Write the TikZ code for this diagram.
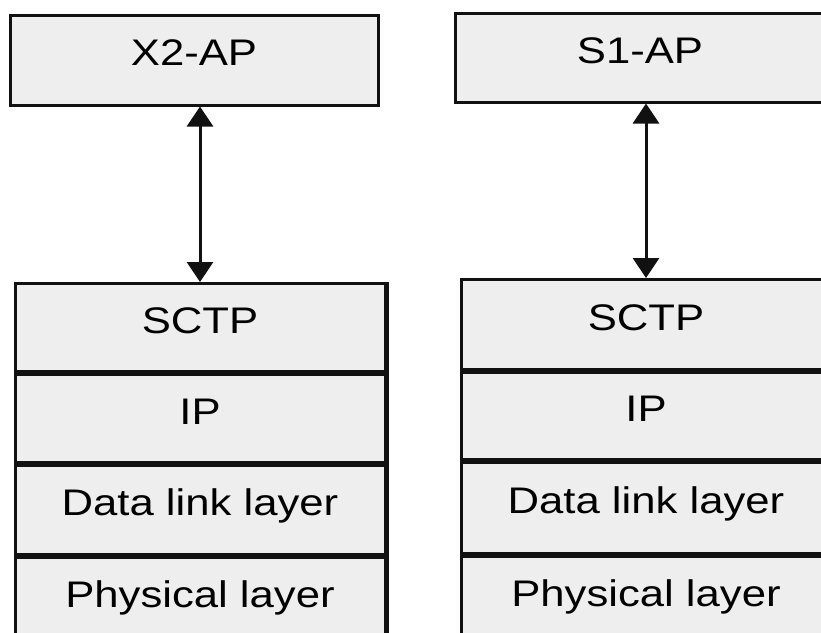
\documentclass[tikz,border=0pt]{standalone}
\usepackage{fontspec}
\setmainfont{Liberation Sans}
\usetikzlibrary{arrows.meta}
\definecolor{boxgray}{HTML}{EEEEEE}
\definecolor{linecol}{HTML}{111111}
\newcommand\lbl[1]{\raisebox{8pt}{\scalebox{1.18}[1]{#1}}}
\begin{document}
\begin{tikzpicture}[x=1pt,y=1pt,
  layerbox/.style={draw=linecol, line width=3pt, fill=boxgray, inner sep=0pt,
    text height=27pt, text depth=0pt,
    minimum width=370pt, font=\fontsize{37}{42}\selectfont},
  biarrow/.style={draw=linecol, line width=3pt, {Triangle[width=26pt,length=20pt]}-{Triangle[width=26pt,length=20pt]}}]
\useasboundingbox (0,0) rectangle (821,-632);
\clip (0,0) rectangle (821,-632);
\fill[white] (0,0) rectangle (821,-632);
% left column
\node[layerbox, minimum width=368pt, minimum height=90pt] (x2) at (194,-60) {\lbl{X2-AP}};
\node[layerbox, minimum height=88pt, anchor=north] (lsctp) at (200,-282) {\lbl{SCTP}};
\node[layerbox, minimum height=88pt, anchor=north] (lip) at (lsctp.south) {\lbl{IP}};
\node[layerbox, minimum height=89pt, anchor=north] (ldl) at (lip.south) {\lbl{Data link layer}};
\node[layerbox, minimum height=88pt, anchor=north] (lphy) at (ldl.south) {\lbl{Physical layer}};
\draw[draw=linecol, line width=5pt] (lsctp.north east) -- (lphy.south east);
% right column
\node[layerbox, minimum height=89pt] (s1) at (640,-57.5) {\lbl{S1-AP}};
\node[layerbox, minimum height=90pt, anchor=north] (rsctp) at (646,-278) {\lbl{SCTP}};
\node[layerbox, minimum height=87pt, anchor=north] (rip) at (rsctp.south) {\lbl{IP}};
\node[layerbox, minimum height=91pt, anchor=north] (rdl) at (rip.south) {\lbl{Data link layer}};
\node[layerbox, minimum height=88pt, anchor=north] (rphy) at (rdl.south) {\lbl{Physical layer}};
% connectors
\draw[biarrow] (lsctp.north |- x2.south) -- (lsctp.north);
\draw[biarrow] (rsctp.north |- s1.south) -- (rsctp.north);
\end{tikzpicture}
\end{document}
